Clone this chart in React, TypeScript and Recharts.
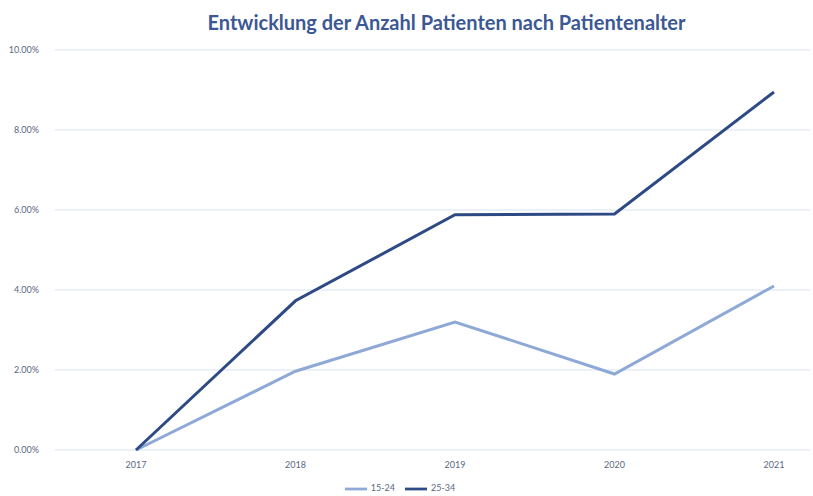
import { LineChart, Line, XAxis, YAxis, CartesianGrid, Legend } from 'recharts'

const years = ['2017', '2018', '2019', '2020', '2021']
const age15to24 = [0, 1.97, 3.2, 1.9, 4.1]
const age25to34 = [0, 3.73, 5.88, 5.9, 8.95]
const yTicks = [0, 2, 4, 6, 8, 10]

const data = years.map((year, i) => ({
  year,
  '15-24': age15to24[i],
  '25-34': age25to34[i],
}))

const tickStyle = { fontSize: 9, fill: '#5b6782', fontFamily: 'Lato, sans-serif' }

export default function App() {
  return (
    <div style={{ position: 'absolute', left: 0, top: 0, width: 813, height: 496, background: '#fff' }}>
      <div
        style={{
          position: 'absolute', left: 0, top: 10, width: 893, textAlign: 'center',
          fontFamily: 'Lato, sans-serif', fontWeight: 700, fontSize: 20, color: '#3b5894',
        }}
      >
        Entwicklung der Anzahl Patienten nach Patientenalter
      </div>
      <LineChart width={813} height={496} data={data} margin={{ top: 50, right: 3, bottom: 2, left: 0 }}>
        <CartesianGrid vertical={false} stroke="#d9e1f0" />
        <XAxis
          dataKey="year"
          axisLine={false}
          tickLine={false}
          tick={tickStyle}
          padding={{ left: 81, right: 36 }}
          height={28}
          tickMargin={6}
        />
        <YAxis
          domain={[0, 10]}
          ticks={yTicks}
          axisLine={false}
          tickLine={false}
          tick={tickStyle}
          width={55}
          tickMargin={10}
          tickFormatter={(v: number) => v.toFixed(2) + '%'}
        />
        <Legend
          verticalAlign="bottom"
          height={16}
          iconType="plainline"
          iconSize={22}
          wrapperStyle={{ fontSize: 9, fontFamily: 'Lato, sans-serif', color: '#5b6782' }}
          formatter={(value: string) => <span style={{ color: '#5b6782' }}>{value}</span>}
        />
        <Line dataKey="15-24" stroke="#8fa9d6" strokeWidth={3} dot={false} isAnimationActive={false} />
        <Line dataKey="25-34" stroke="#2e4a85" strokeWidth={3} dot={false} isAnimationActive={false} />
      </LineChart>
    </div>
  )
}
